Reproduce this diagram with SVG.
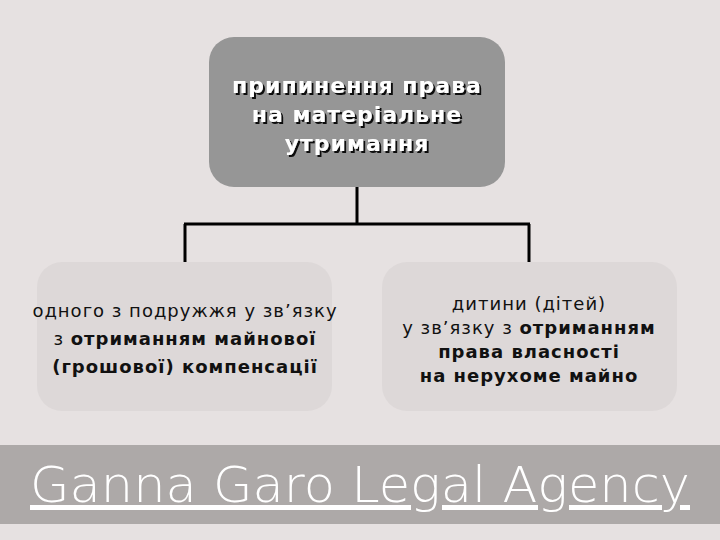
<svg xmlns="http://www.w3.org/2000/svg" width="720" height="540" viewBox="0 0 720 540">
<defs>
<style>
.bg{fill:#E6E1E1}
.top{fill:#969696}
.sub{fill:#DDD8D8}
.conn{fill:none;stroke:#000;stroke-width:3}
.tt{font-family:"DejaVu Sans",sans-serif;font-weight:bold;font-size:22px;letter-spacing:1px;fill:#fff;text-anchor:middle}
.bt{font-family:"DejaVu Sans",sans-serif;font-size:18px;letter-spacing:1px;fill:#111;text-anchor:middle}
.b{font-weight:bold}
.foot{font-family:"DejaVu Sans",sans-serif;font-weight:200;font-size:50px;fill:#fff;text-decoration:underline}
</style>
<filter id="sh" x="-10%" y="-10%" width="120%" height="130%">
<feDropShadow dx="2" dy="2" stdDeviation="0.3" flood-color="#111" flood-opacity="1"/>
</filter>
</defs>
<rect class="bg" x="0" y="0" width="720" height="540"/>
<g id="connectors">
<path class="conn" d="M357,187 V224 M184,224 H530 M185,224 V262 M529,224 V262"/>
</g>
<g id="root">
<rect class="top" x="209" y="37" width="296" height="150" rx="25"/>
<g filter="url(#sh)">
<text class="tt" x="357" y="93">припинення права</text>
<text class="tt" x="357" y="122">на матеріальне</text>
<text class="tt" x="357" y="151">утримання</text>
</g>
</g>
<g id="left">
<rect class="sub" x="37" y="262" width="295" height="149" rx="25"/>
<text class="bt" x="185" y="317">одного з подружжя у зв’язку</text>
<text class="bt" x="185" y="345">з <tspan class="b">отриманням майнової</tspan></text>
<text class="bt b" x="185" y="373">(грошової) компенсації</text>
</g>
<g id="right">
<rect class="sub" x="382" y="262" width="295" height="149" rx="25"/>
<text class="bt" x="529" y="310">дитини (дітей)</text>
<text class="bt" x="529" y="334">у зв’язку з <tspan class="b">отриманням</tspan></text>
<text class="bt b" x="529" y="358">права власності</text>
<text class="bt b" x="529" y="382">на нерухоме майно</text>
</g>
<g id="footer">
<rect x="0" y="445" width="720" height="79" fill="#ADA9A8"/>
<text class="foot" x="30" y="502" textLength="660" lengthAdjust="spacingAndGlyphs">Ganna Garo Legal Agency</text>
</g>
</svg>
